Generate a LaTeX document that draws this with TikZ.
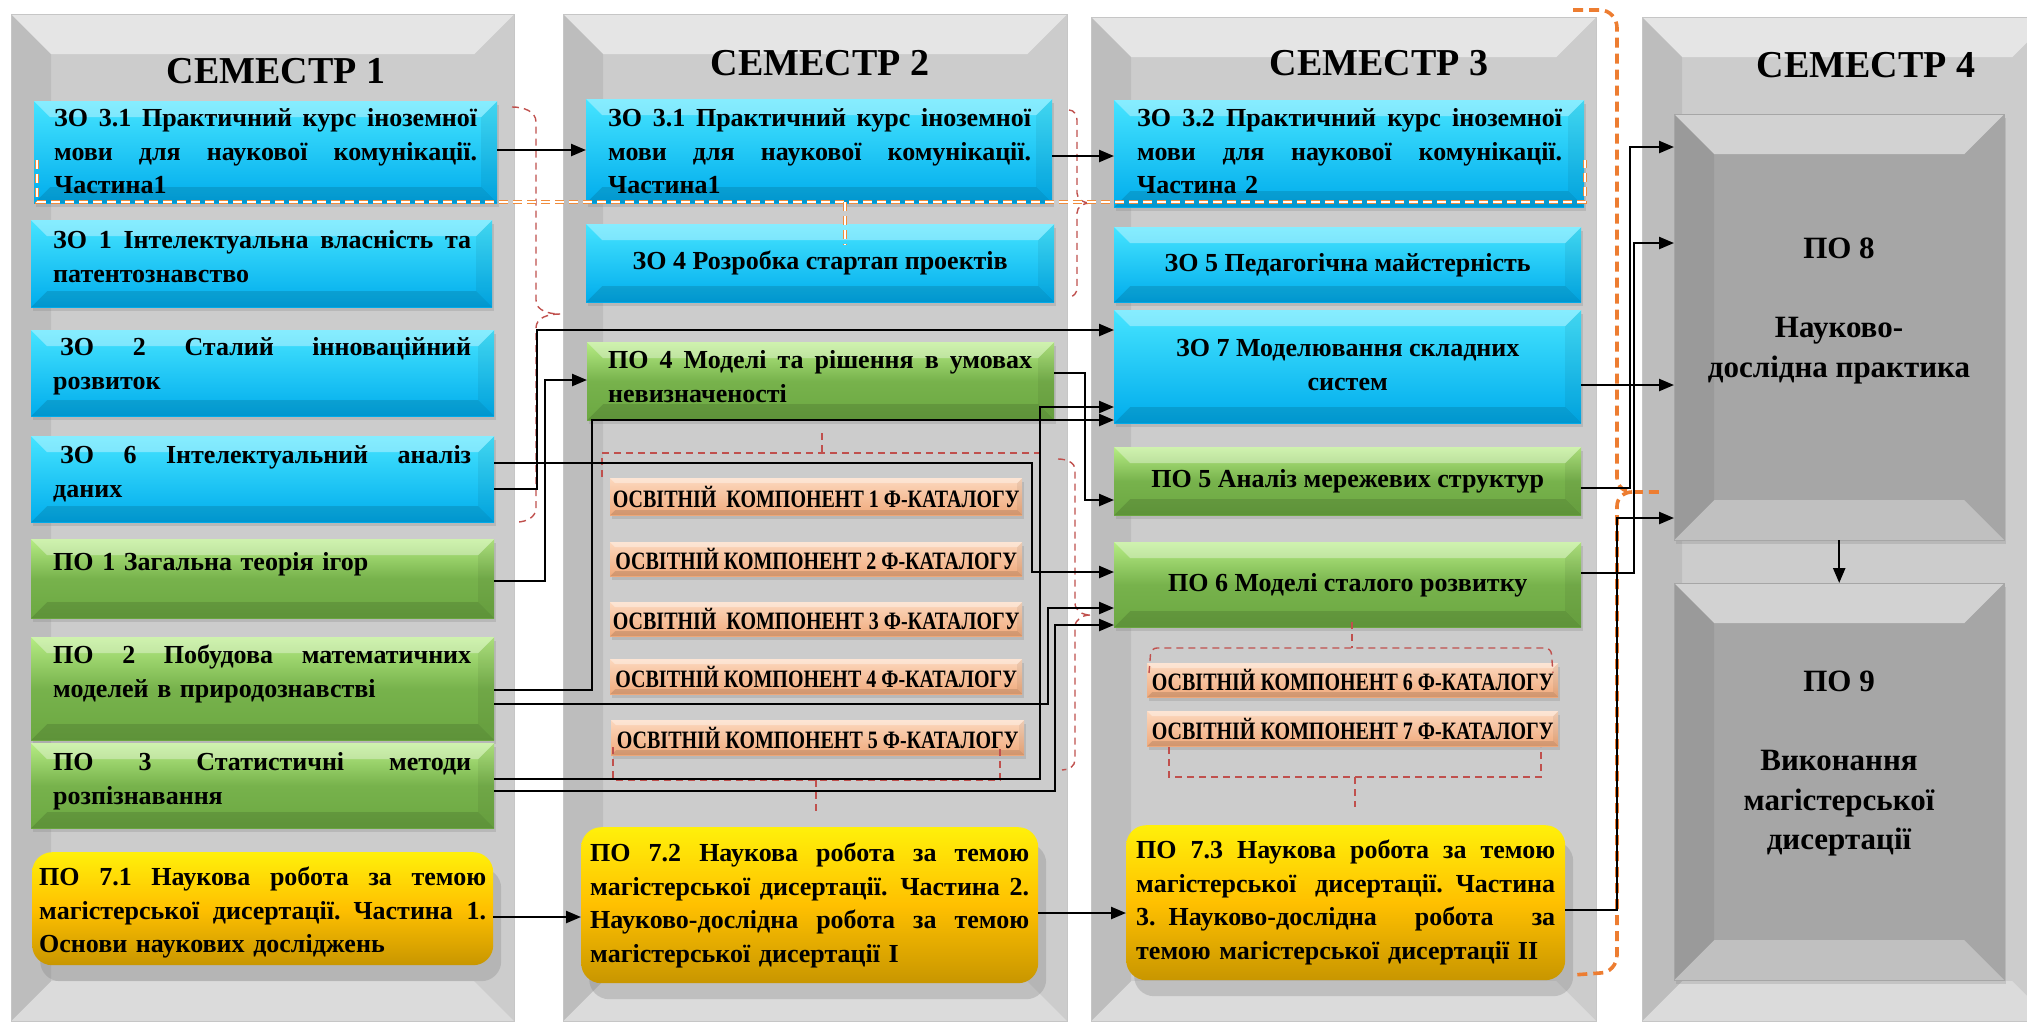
\documentclass[tikz,border=0pt]{standalone}
\usepackage{fontspec}
\setmainfont{Liberation Serif}
\usepackage{graphicx}
\usepackage{tikz}
\usetikzlibrary{arrows.meta, shadows, positioning}
\setlength{\parindent}{0pt}
\definecolor{panelGray}{RGB}{204,204,204}
\definecolor{zoLight}{RGB}{70,228,255}
\definecolor{zoDark}{RGB}{0,172,236}
\definecolor{poLight}{RGB}{182,236,132}
\definecolor{poDark}{RGB}{108,168,66}
\definecolor{okLight}{RGB}{252,216,190}
\definecolor{okDark}{RGB}{240,170,124}
\definecolor{goldLight}{RGB}{255,240,10}
\definecolor{goldMid}{RGB}{255,192,0}
\definecolor{goldDark}{RGB}{200,150,0}
\definecolor{po8Gray}{RGB}{166,166,166}
\definecolor{braceRed}{RGB}{192,80,77}
\definecolor{braceOrange}{RGB}{237,125,49}
\definecolor{lineOrange}{RGB}{240,140,60}
\newlength{\jw}
\newcommand{\boxfont}{\fontsize{26}{33.5}\selectfont\bfseries}
\newcommand{\semfont}{\fontsize{38}{46}\selectfont\bfseries}
\newcommand{\bigfont}{\fontsize{31}{39.5}\selectfont\bfseries}
\newcommand{\okboxfont}{\fontsize{25}{28}\selectfont\bfseries}
\newcommand{\okname}[1]{\scalebox{0.8}[1]{#1}}
\newcommand{\jline}[1]{\makebox[\jw][s]{\spaceskip=.25em plus 6em minus .08em\relax\strut #1}}
\tikzset{
  bevel/.style={
    path picture={
      \fill[white,opacity=.35] (path picture bounding box.north west) -- (path picture bounding box.north east)
        -- ([xshift=-#1,yshift=-#1]path picture bounding box.north east)
        -- ([xshift=#1,yshift=-#1]path picture bounding box.north west) -- cycle;
      \fill[black,opacity=.12] (path picture bounding box.south west) -- (path picture bounding box.south east)
        -- ([xshift=-#1,yshift=#1]path picture bounding box.south east)
        -- ([xshift=#1,yshift=#1]path picture bounding box.south west) -- cycle;
      \fill[black,opacity=.06] (path picture bounding box.north east) -- (path picture bounding box.south east)
        -- ([xshift=-#1,yshift=#1]path picture bounding box.south east)
        -- ([xshift=-#1,yshift=-#1]path picture bounding box.north east) -- cycle;
    }
  },
  panelBevel/.style={
    path picture={
      \fill[white,opacity=.5] (path picture bounding box.north west) -- (path picture bounding box.north east)
        -- ([xshift=-#1,yshift=-#1]path picture bounding box.north east)
        -- ([xshift=#1,yshift=-#1]path picture bounding box.north west) -- cycle;
      \fill[white,opacity=.3] (path picture bounding box.south west) -- (path picture bounding box.south east)
        -- ([xshift=-#1,yshift=#1]path picture bounding box.south east)
        -- ([xshift=#1,yshift=#1]path picture bounding box.south west) -- cycle;
      \fill[black,opacity=.07] (path picture bounding box.north west) -- (path picture bounding box.south west)
        -- ([xshift=#1,yshift=#1]path picture bounding box.south west)
        -- ([xshift=#1,yshift=-#1]path picture bounding box.north west) -- cycle;
    }
  },
  softShadow/.style={
    drop shadow={shadow xshift=2pt, shadow yshift=-4pt, opacity=.25}
  },
  panelBox/.style={
    draw=gray!45,
    fill=panelGray,
    panelBevel=40pt,
    inner sep=0pt,
    anchor=north west
  },
  zoBox/.style={
    top color=zoLight,
    bottom color=zoDark,
    bevel=16pt,
    softShadow,
    inner sep=0pt,
    anchor=north west,
    font=\boxfont
  },
  poBox/.style={
    top color=poLight,
    bottom color=poDark,
    middle color=poDark!85!poLight,
    bevel=16pt,
    softShadow,
    inner sep=0pt,
    anchor=north west,
    font=\boxfont
  },
  okBox/.style={
    top color=okLight,
    bottom color=okDark,
    bevel=5pt,
    softShadow,
    inner sep=0pt,
    anchor=north west,
    font=\okboxfont
  },
  goldBox/.style={
    rounded corners=20pt,
    top color=goldLight,
    bottom color=goldDark,
    middle color=goldMid,
    drop shadow={shadow xshift=8pt, shadow yshift=-16pt, opacity=.3},
    inner sep=0pt,
    anchor=north west
  },
  greyBox/.style={
    draw=gray!70,
    fill=po8Gray,
    panelBevel=40pt,
    softShadow,
    inner sep=0pt,
    anchor=north west
  },
  boxText/.style={
    font=\boxfont,
    text width=#1,
    execute at begin node={\setlength{\jw}{#1}},
    align=left,
    inner sep=0pt,
    anchor=north west
  },
  semHead/.style={
    font=\semfont,
    inner sep=0pt
  },
  flowArrow/.style={
    -{Triangle[length=15pt,width=12pt]},
    line width=2.4pt,
    draw=black
  },
  redBrace/.style={
    draw=braceRed,
    line width=1.4pt,
    dash pattern=on 7pt off 5pt
  },
  orangeBrace/.style={
    draw=braceOrange,
    line width=3.6pt,
    dash pattern=on 10pt off 6pt
  },
  orangeDouble/.style={
    draw=lineOrange,
    double=white,
    double distance=1.6pt,
    line width=1.1pt,
    dash pattern=on 9pt off 5pt
  }
}
\begin{document}
\begin{tikzpicture}[x=1pt, y=-1pt]
  \useasboundingbox (0,0) rectangle (2027,1026);
  \fill[white] (0,0) rectangle (2027,1026);
  % semester panels
  \node[panelBox, minimum width=503pt, minimum height=1007pt] (panel1) at (11,14) {};
  \node[panelBox, minimum width=504pt, minimum height=1007pt] (panel2) at (563,14) {};
  \node[panelBox, minimum width=505pt, minimum height=1004pt] (panel3) at (1091,17) {};
  \node[panelBox, minimum width=410pt, minimum height=1004pt] (panel4) at (1642,17) {};
  \node[semHead] (sem1) at (276,71) {СЕМЕСТР 1};
  \node[semHead] (sem2) at (820,63) {СЕМЕСТР 2};
  \node[semHead] (sem3) at (1379,63) {СЕМЕСТР 3};
  \node[semHead] (sem4) at (1866,65) {СЕМЕСТР 4};

  % semester 1
  \node[zoBox, minimum width=463pt, minimum height=102pt] (zo31a) at (34,101) {};
  \node[zoBox, minimum width=461pt, minimum height=87pt] (zo1) at (31,220) {};
  \node[zoBox, minimum width=463pt, minimum height=86pt] (zo2) at (31,330) {};
  \node[zoBox, minimum width=463pt, minimum height=86pt] (zo6) at (31,436) {};
  \node[poBox, minimum width=463pt, minimum height=79pt] (po1) at (31,539) {};
  \node[poBox, minimum width=463pt, minimum height=103pt] (po2) at (31,637) {};
  \node[poBox, minimum width=463pt, minimum height=85pt] (po3) at (31,743) {};
  \node[goldBox, minimum width=461pt, minimum height=113pt] (po71) at (32,852) {};
  \node[boxText=423pt] (zo31aTxt) at (54,103) {\jline{ЗО 3.1 Практичний курс іноземної}\\\jline{мови для наукової комунікації.}\\\strut Частина1};
  \node[boxText=418pt] (zo1Txt) at (53,225) {\jline{ЗО 1 Інтелектуальна власність та}\\\strut патентознавство};
  \node[boxText=418pt] (zo2Txt) at (53,332) {\jline{\hspace{7pt}ЗО 2 Сталий інноваційний}\\\strut розвиток};
  \node[boxText=418pt] (zo6Txt) at (53,440) {\jline{\hspace{7pt}ЗО 6 Інтелектуальний аналіз}\\\strut даних};
  \node[boxText=418pt] (po1Txt) at (53,547) {\strut ПО 1 Загальна теорія ігор};
  \node[boxText=418pt] (po2Txt) at (53,640) {\jline{ПО 2 Побудова математичних}\\\strut моделей в природознавстві};
  \node[boxText=418pt] (po3Txt) at (53,747) {\jline{ПО 3 Статистичні методи}\\\strut розпізнавання};
  \node[boxText=447pt] (po71Txt) at (39,862) {\jline{ПО 7.1 Наукова робота за темою}\\\jline{магістерської дисертації. Частина 1.}\\\strut Основи наукових досліджень};

  % semester 2
  \node[zoBox, minimum width=466pt, minimum height=104pt] (zo31b) at (586,99) {};
  \node[zoBox, minimum width=468pt, minimum height=78pt] (zo4) at (586,224) {\strut ЗО 4 Розробка стартап проектів};
  \node[poBox, minimum width=467pt, minimum height=78pt] (po4) at (587,342) {};
  \node[okBox, minimum width=412pt, minimum height=37pt] (ok1) at (610,478) {\okname{ОСВІТНІЙ\ \ КОМПОНЕНТ 1 Ф-КАТАЛОГУ}};
  \node[okBox, minimum width=412pt, minimum height=34pt] (ok2) at (610,542) {\okname{ОСВІТНІЙ КОМПОНЕНТ 2 Ф-КАТАЛОГУ}};
  \node[okBox, minimum width=412pt, minimum height=34pt] (ok3) at (610,602) {\okname{ОСВІТНІЙ\ \ КОМПОНЕНТ 3 Ф-КАТАЛОГУ}};
  \node[okBox, minimum width=412pt, minimum height=35pt] (ok4) at (610,659) {\okname{ОСВІТНІЙ КОМПОНЕНТ 4 Ф-КАТАЛОГУ}};
  \node[okBox, minimum width=413pt, minimum height=35pt] (ok5) at (611,720) {\okname{ОСВІТНІЙ КОМПОНЕНТ 5 Ф-КАТАЛОГУ}};
  \node[goldBox, minimum width=457pt, minimum height=156pt] (po72) at (581,827) {};
  \node[boxText=423pt] (zo31bTxt) at (608,103) {\jline{ЗО 3.1 Практичний курс іноземної}\\\jline{мови для наукової комунікації.}\\\strut Частина1};
  \node[boxText=424pt] (po4Txt) at (608,345) {\jline{ПО 4 Моделі та рішення в умовах}\\\strut невизначеності};
  \node[boxText=439pt] (po72Txt) at (590,838) {\jline{ПО 7.2 Наукова робота за темою}\\\jline{магістерської дисертації. Частина 2.}\\\jline{Науково-дослідна робота за темою}\\\strut магістерської дисертації I};

  % semester 3
  \node[zoBox, minimum width=470pt, minimum height=107pt] (zo32) at (1114,100) {};
  \node[zoBox, minimum width=467pt, minimum height=75pt] (zo5) at (1114,227) {\strut ЗО 5 Педагогічна майстерність};
  \node[zoBox, minimum width=467pt, minimum height=113pt, align=center] (zo7) at (1114,310) {\strut ЗО 7 Моделювання складних\\\strut систем};
  \node[poBox, minimum width=467pt, minimum height=68pt] (po5) at (1114,447) {\strut ПО 5 Аналіз мережевих структур};
  \node[poBox, minimum width=467pt, minimum height=85pt] (po6) at (1114,542) {\strut ПО 6 Моделі сталого розвитку};
  \node[okBox, minimum width=411pt, minimum height=34pt] (ok6) at (1147,663) {\okname{ОСВІТНІЙ КОМПОНЕНТ 6 Ф-КАТАЛОГУ}};
  \node[okBox, minimum width=411pt, minimum height=35pt] (ok7) at (1147,711) {\okname{ОСВІТНІЙ КОМПОНЕНТ 7 Ф-КАТАЛОГУ}};
  \node[goldBox, minimum width=439pt, minimum height=155pt] (po73) at (1126,825) {};
  \node[boxText=425pt] (zo32Txt) at (1137,103) {\jline{ЗО 3.2 Практичний курс іноземної}\\\jline{мови для наукової комунікації.}\\\strut Частина 2};
  \node[boxText=419pt] (po73Txt) at (1136,835) {\jline{ПО 7.3 Наукова робота за темою}\\\jline{магістерської дисертації. Частина}\\\jline{3. Науково-дослідна робота за}\\\strut темою магістерської дисертації II};

  % semester 4
  \node[greyBox, minimum width=330pt, minimum height=426pt] (po8) at (1674,114) {};
  \node[greyBox, minimum width=330pt, minimum height=397pt] (po9) at (1674,583) {};
  \node[font=\bigfont, align=center] (po8Txt) at (1839,311) {ПО 8\\[39.5pt]Науково-\\дослідна практика};
  \node[font=\bigfont, align=center] (po9Txt) at (1839,764) {ПО 9\\[39.5pt]Виконання\\магістерської\\дисертації};

  % dashed groupings
  \draw[redBrace] (512,107) to[out=0,in=90] (536,122) -- (536,300) to[out=270,in=180] (560,314);
  \draw[redBrace] (560,314) to[out=180,in=90] (536,328) -- (536,508) to[out=270,in=0] (517,522);
  \draw[redBrace] (1069,110) to[out=0,in=90] (1077,120) -- (1077,193) to[out=270,in=180] (1090,203);
  \draw[redBrace] (1090,203) to[out=180,in=90] (1077,213) -- (1077,288) to[out=270,in=0] (1069,297);
  \draw[redBrace] (1058,459) to[out=0,in=90] (1075,470) -- (1075,603) to[out=270,in=180] (1090,615);
  \draw[redBrace] (1090,615) to[out=180,in=90] (1075,627) -- (1075,760) to[out=270,in=0] (1062,770);
  \draw[redBrace] (602,477) -- (602,453) -- (1040,453) -- (1040,475);
  \draw[redBrace] (822,433) -- (822,453);
  \draw[redBrace] (613,747) -- (613,780) -- (1000,780) -- (1000,748);
  \draw[redBrace] (816,780) -- (816,813);
  \draw[redBrace, rounded corners=6pt] (1149,673) -- (1151,648) -- (1551,648) -- (1553,673);
  \draw[redBrace] (1352,622) -- (1352,648);
  \draw[redBrace] (1169,747) -- (1169,777) -- (1541,777) -- (1541,747);
  \draw[redBrace] (1355,777) -- (1355,807);
  \draw[orangeDouble] (37,160) -- (37,202) -- (1585,202) -- (1585,160);
  \draw[orangeDouble] (845,202) -- (845,245);
  \draw[orangeBrace] (1573,10) -- (1600,10) to[out=0,in=90] (1617,28) -- (1617,478) to[out=270,in=180] (1632,492) -- (1662,492);
  \draw[orangeBrace] (1632,492) to[out=180,in=90] (1617,506) -- (1617,955) to[out=270,in=0] (1600,973) -- (1573,975);

  % connectors
  \draw[flowArrow] (zo31a.east |- 0,150) -- (zo31b.west |- 0,150);
  \draw[flowArrow] (zo31b.east |- 0,156) -- (zo32.west |- 0,156);
  \draw[flowArrow] (zo6.east |- 0,489) -| (537,330) -- (zo7.west |- 0,330);
  \draw[flowArrow] (zo6.east |- 0,463) -| (1032,572) -- (po6.west |- 0,572);
  \draw[flowArrow] (po1.east |- 0,581) -| (545,380) -- (po4.west |- 0,380);
  \draw[flowArrow] (po2.east |- 0,690) -| (592,420) -- (zo7.west |- 0,420);
  \draw[flowArrow] (po2.east |- 0,704) -| (1048,608) -- (po6.west |- 0,608);
  \draw[flowArrow] (po3.east |- 0,779) -| (1040,407) -- (zo7.west |- 0,407);
  \draw[flowArrow] (po3.east |- 0,791) -| (1055,625) -- (po6.west |- 0,625);
  \draw[flowArrow] (po4.east |- 0,373) -| (1085,500) -- (po5.west |- 0,500);
  \draw[flowArrow] (po71.east |- 0,917) -- (po72.west |- 0,917);
  \draw[flowArrow] (po72.east |- 0,913) -- (po73.west |- 0,913);
  \draw[flowArrow] (zo7.east |- 0,385) -- (po8.west |- 0,385);
  \draw[flowArrow] (po5.east |- 0,488) -| (1630,147) -- (po8.west |- 0,147);
  \draw[flowArrow] (po6.east |- 0,573) -| (1634,243) -- (po8.west |- 0,243);
  \draw[flowArrow] (po73.east |- 0,910) -| (1617,518) -- (po8.west |- 0,518);
  \draw[flowArrow] (po8.south) -- (po9.north);
\end{tikzpicture}
\end{document}
